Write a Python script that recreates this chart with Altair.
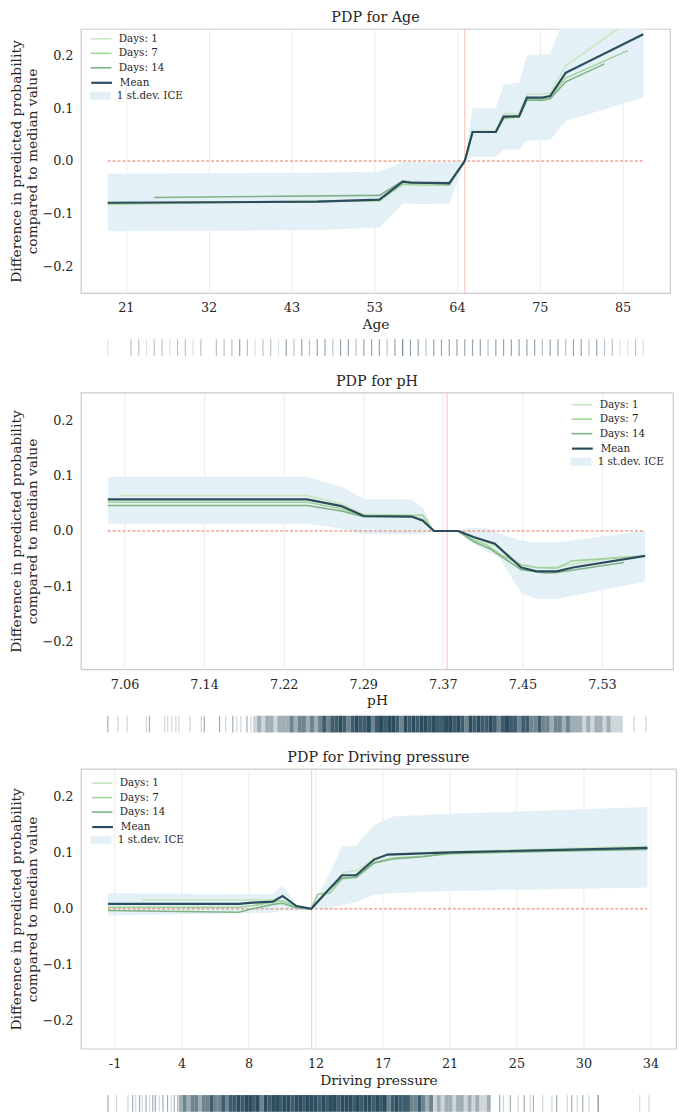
import altair as alt
import pandas as pd

FONT = "DejaVu Serif"
TEXT = "#262626"
GREEN_SERIES = ["Days: 1", "Days: 7", "Days: 14"]
GREEN_COLORS = ["#c8e6c0", "#a2d39a", "#7fb285"]
MEAN_SERIES = ["Mean"]
MEAN_COLOR = ["#2b4c5d"]
ICE_SERIES = ["1 st.dev. ICE"]
ICE_FILL = "#e3f0f5"
RUG_COLOR = "#2b4c5d"
ZERO_COLOR = "#e8705a"
MEDIAN_COLOR = "#f7bdb3"
Y_TITLE = ["Difference in predicted probability", "compared to median value"]
Y_TICKS = [-0.2, -0.1, 0.0, 0.1, 0.2]

# ---------------- Age ----------------
age_d1_x = [19, 54, 57, 58, 63, 65, 66, 69, 70, 72, 73, 75, 76, 78, 88]
age_d1_y = [-0.080, -0.075, -0.043, -0.044, -0.045, 0.0, 0.057, 0.057, 0.089, 0.090, 0.126, 0.127, 0.129, 0.180, 0.285]
age_d7_x = [19, 54, 57, 58, 63, 65, 66, 69, 70, 72, 73, 75, 76, 78, 86]
age_d7_y = [-0.082, -0.075, -0.044, -0.045, -0.046, 0.0, 0.055, 0.055, 0.080, 0.084, 0.117, 0.117, 0.120, 0.157, 0.209]
age_d14_x = [25, 54, 57, 58, 63, 65, 66, 69, 70, 72, 73, 75, 76, 78, 83]
age_d14_y = [-0.069, -0.065, -0.038, -0.040, -0.044, 0.0, 0.055, 0.055, 0.083, 0.083, 0.115, 0.115, 0.118, 0.150, 0.184]
age_mean_x = [19, 46, 54, 57, 58, 63, 65, 66, 69, 70, 72, 73, 75, 76, 78, 88]
age_mean_y = [-0.079, -0.077, -0.073, -0.039, -0.041, -0.042, 0.0, 0.055, 0.055, 0.084, 0.085, 0.120, 0.120, 0.123, 0.167, 0.240]
age_band_x = [19, 46, 54, 57, 63, 65, 66, 69, 70, 72, 73, 76, 78, 88]
age_band_hi = [-0.024, -0.022, -0.020, -0.002, -0.003, 0.0, 0.100, 0.100, 0.145, 0.148, 0.200, 0.203, 0.280, 0.360]
age_band_lo = [-0.133, -0.131, -0.126, -0.081, -0.082, 0.0, 0.008, 0.008, 0.022, 0.022, 0.039, 0.040, 0.076, 0.120]
age_median = 65
age_ticks = [21.333, 32.0, 42.667, 53.333, 64.0, 74.667, 85.333]
age_domain = [15.55, 91.45]
age_rug_x = [19, 22, 23, 24, 25, 26, 27, 28, 29, 30, 31,
             33, 34, 35, 36, 37, 38, 39, 40, 41, 42, 43,
             44, 45, 46, 47, 48, 49, 50, 51, 52, 53, 54, 55, 56, 57, 58, 59, 60, 61, 62,
             63, 64, 65, 66, 67, 68, 69, 70, 71, 72, 73, 74, 75, 76, 77, 78, 79, 80,
             81, 82, 83, 84, 85, 86, 87, 88]
age_rug_n = [1, 2, 2, 1, 2, 2, 1, 2, 2, 1, 2,
             2, 2, 2, 3, 2, 1, 2, 2, 1, 3, 2,
             3, 2, 3, 3, 2, 3, 3, 2, 3, 3, 3, 2, 3, 4, 3, 3, 2, 3, 3,
             3, 3, 3, 3, 3, 2, 3, 3, 3, 3, 3, 3, 2, 3, 3, 2, 3, 3,
             2, 3, 2, 2, 1, 1, 2, 1]

# ---------------- pH ----------------
ph_d1_x = [7.054, 7.239, 7.273, 7.295, 7.342, 7.353, 7.364, 7.388, 7.403, 7.424, 7.450, 7.465, 7.485, 7.501, 7.547]
ph_d1_y = [0.064, 0.064, 0.049, 0.030, 0.029, 0.021, 0.0, 0.0, -0.012, -0.026, -0.062, -0.066, -0.065, -0.060, -0.047]
ph_d7_x = [7.043, 7.239, 7.273, 7.295, 7.342, 7.353, 7.364, 7.388, 7.403, 7.416, 7.429, 7.450, 7.465, 7.485, 7.500, 7.572]
ph_d7_y = [0.052, 0.052, 0.040, 0.028, 0.028, 0.029, 0.0, 0.0, -0.016, -0.025, -0.042, -0.061, -0.066, -0.067, -0.054, -0.045]
ph_d14_x = [7.043, 7.239, 7.273, 7.295, 7.342, 7.353, 7.364, 7.388, 7.403, 7.419, 7.450, 7.474, 7.485, 7.551]
ph_d14_y = [0.046, 0.046, 0.036, 0.026, 0.026, 0.018, 0.0, 0.0, -0.019, -0.032, -0.070, -0.076, -0.075, -0.057]
ph_mean_x = [7.043, 7.239, 7.273, 7.295, 7.342, 7.353, 7.364, 7.388, 7.403, 7.424, 7.450, 7.465, 7.485, 7.501, 7.572]
ph_mean_y = [0.057, 0.057, 0.045, 0.027, 0.026, 0.019, 0.0, 0.0, -0.011, -0.023, -0.066, -0.073, -0.073, -0.066, -0.045]
ph_band_x = [7.043, 7.239, 7.273, 7.295, 7.342, 7.354, 7.364, 7.388, 7.400, 7.416, 7.429, 7.450, 7.465, 7.485, 7.572]
ph_band_hi = [0.098, 0.098, 0.080, 0.058, 0.057, 0.040, 0.0, 0.0, 0.006, 0.005, -0.005, -0.017, -0.021, -0.021, 0.0]
ph_band_lo = [0.013, 0.013, 0.004, -0.006, -0.006, -0.006, 0.0, 0.0, -0.020, -0.037, -0.049, -0.112, -0.123, -0.123, -0.091]
ph_median = 7.377
ph_ticks = [7.0595, 7.1378, 7.2162, 7.2945, 7.3728, 7.4512, 7.5295]
ph_domain = [7.0165, 7.5995]
ph_rug_x = [7.043, 7.053, 7.062, 7.081, 7.084, 7.099, 7.102, 7.106, 7.110, 7.113, 7.124,
            7.135, 7.138, 7.153, 7.159, 7.166, 7.170, 7.174, 7.180, 7.184, 7.561, 7.573]
ph_rug_n = [2, 1, 1, 1, 2, 1, 1, 1, 1, 1, 1,
            1, 2, 2, 1, 2, 1, 1, 2, 1, 1, 1]
ph_dense_x = [7.188, 7.192, 7.196, 7.200, 7.204, 7.208, 7.212, 7.216,
              7.220, 7.224, 7.228, 7.232, 7.236, 7.240, 7.244, 7.248, 7.252,
              7.256, 7.260, 7.264, 7.268, 7.272, 7.276, 7.280, 7.284, 7.288, 7.292, 7.296, 7.300, 7.304,
              7.308, 7.312, 7.316, 7.320, 7.324, 7.328, 7.332, 7.336, 7.340, 7.344, 7.348, 7.352, 7.356,
              7.360, 7.364, 7.368, 7.372, 7.376, 7.380, 7.384, 7.388, 7.392, 7.396, 7.400, 7.404, 7.408,
              7.412, 7.416, 7.420, 7.424, 7.428, 7.432, 7.436, 7.440, 7.444, 7.448, 7.452, 7.456, 7.460,
              7.464, 7.468, 7.472, 7.476, 7.480, 7.484, 7.488, 7.492, 7.496, 7.500, 7.504,
              7.508, 7.512, 7.516, 7.520, 7.524, 7.528, 7.532, 7.536, 7.540, 7.544, 7.548]
ph_dense_n = [1, 2, 1, 2, 2, 1, 2, 2,
              2, 3, 2, 3, 3, 2, 3, 2, 3,
              4, 3, 4, 4, 5, 4, 3, 4, 5, 4, 4, 5, 3,
              4, 5, 4, 5, 5, 4, 3, 5, 4, 5, 4, 5, 5,
              4, 5, 4, 4, 5, 5, 4, 5, 4, 3, 5, 4, 5,
              4, 4, 5, 4, 3, 4, 5, 4, 4, 3, 4, 4, 3,
              3, 4, 3, 3, 2, 3, 3, 2, 3, 2, 2,
              2, 1, 2, 1, 2, 2, 1, 2, 1, 1, 1]

# ---------------- Driving pressure ----------------
dp_d1_x = [1.12, 9.50, 10.38, 11.10, 12.07, 12.49, 13.30, 14.20, 15.00, 16.15, 17.00, 19.30, 21.10, 33.90]
dp_d1_y = [0.016, 0.016, 0.013, 0.006, 0.0, 0.026, 0.028, 0.065, 0.068, 0.090, 0.098, 0.100, 0.102, 0.112]
dp_d7_x = [-1.13, 7.37, 8.30, 9.57, 10.20, 11.10, 12.07, 12.50, 13.30, 14.07, 15.00, 16.15, 17.37, 19.30, 21.10, 33.90]
dp_d7_y = [0.003, 0.003, 0.006, 0.012, 0.014, 0.004, 0.0, 0.026, 0.029, 0.053, 0.058, 0.083, 0.091, 0.094, 0.098, 0.108]
dp_d14_x = [-1.13, 7.37, 8.26, 9.57, 10.20, 11.10, 12.07, 13.12, 14.07, 14.98, 16.17, 17.37, 19.30, 21.10, 33.90]
dp_d14_y = [-0.003, -0.006, 0.0, 0.008, 0.010, 0.002, 0.0, 0.032, 0.055, 0.056, 0.082, 0.089, 0.093, 0.100, 0.106]
dp_mean_x = [-1.13, 7.37, 8.26, 9.57, 10.20, 11.11, 12.07, 13.12, 14.07, 14.98, 16.15, 17.04, 21.11, 33.90]
dp_mean_y = [0.009, 0.009, 0.011, 0.013, 0.023, 0.005, 0.0, 0.032, 0.060, 0.060, 0.088, 0.097, 0.101, 0.109]
dp_band_x = [-1.13, 9.57, 10.20, 11.11, 12.07, 13.12, 14.07, 14.98, 16.15, 17.37, 21.11, 33.90]
dp_band_hi = [0.028, 0.026, 0.042, 0.007, 0.0, 0.055, 0.112, 0.113, 0.150, 0.165, 0.170, 0.182]
dp_band_lo = [-0.012, -0.007, -0.003, -0.003, 0.0, 0.0, 0.007, 0.012, 0.025, 0.028, 0.032, 0.038]
dp_median = 12.1
dp_ticks = [-0.7, 3.65, 8.0, 12.35, 16.7, 21.05, 25.4, 29.75, 34.1]
dp_domain = [-2.887, 35.757]
dp_rug_x = [-1.13, -0.57, 0.17, 0.47, 0.67, 0.92, 1.09, 1.34, 1.58, 1.78, 1.95, 2.20, 2.44, 2.74, 2.98, 3.18, 3.40,
            24.30, 24.55, 25.00, 25.50, 25.90, 26.30, 26.50, 27.10, 27.70, 28.00, 28.70, 28.98, 29.34, 29.70,
            30.10, 30.70, 33.40, 34.00]
dp_rug_n = [2, 1, 1, 2, 1, 2, 1, 2, 1, 2, 2, 1, 2, 2, 1, 2, 2,
            2, 1, 2, 1, 2, 1, 2, 1, 1, 2, 1, 2, 1, 2,
            1, 3, 1, 1]
dp_dense_x = [3.60, 3.85, 4.10, 4.35, 4.60, 4.85, 5.10, 5.35, 5.60, 5.85, 6.10, 6.35, 6.60, 6.85,
              7.10, 7.35, 7.60, 7.85, 8.10, 8.35, 8.60, 8.85, 9.10, 9.35, 9.60, 9.85, 10.10, 10.35, 10.60,
              10.85, 11.10, 11.35, 11.60, 11.85, 12.10, 12.35, 12.60, 12.85, 13.10, 13.35, 13.60, 13.85, 14.10, 14.35,
              14.60, 14.85, 15.10, 15.35, 15.60, 15.85, 16.10, 16.35, 16.60, 16.85, 17.10, 17.35, 17.60, 17.85, 18.10,
              18.35, 18.60, 18.85, 19.10, 19.35, 19.60, 19.85,
              20.10, 20.35, 20.60, 20.85,
              21.10, 21.35, 21.60, 21.85, 22.10, 22.35, 22.60, 22.85, 23.10, 23.35, 23.60]
dp_dense_n = [2, 3, 2, 3, 3, 2, 3, 3, 4, 3, 3, 4, 3, 4,
              4, 5, 4, 5, 5, 4, 5, 3, 5, 4, 5, 5, 4, 5, 5,
              4, 5, 5, 4, 5, 5, 5, 4, 5, 4, 5, 5, 4, 5, 5,
              5, 4, 5, 4, 5, 5, 4, 5, 4, 5, 3, 4, 5, 4, 4,
              4, 3, 3, 4, 3, 2, 3,
              1, 2, 1, 2,
              2, 1, 2, 2, 1, 2, 1, 2, 1, 1, 2]

ROW = 14.7
LINE_SYMBOL = "M-1.5,0H1.5"
BOX_SYMBOL = "M-1.5,-0.6H1.5V0.6H-1.5Z"


def long_lines(names, xs_list, ys_list):
    rows = []
    for name, xs, ys in zip(names, xs_list, ys_list):
        for x, y in zip(xs, ys):
            rows.append({"series": name, "x": x, "y": y})
    return pd.DataFrame(rows)


def make_legend(lx, ly, stroke_width):
    return alt.Legend(title=None, orient="none", legendX=lx, legendY=ly, symbolSize=196,
                      symbolType=LINE_SYMBOL if stroke_width > 0 else BOX_SYMBOL,
                      symbolStrokeWidth=stroke_width, symbolOpacity=1,
                      labelOffset=10, rowPadding=0.7, padding=0)


def panel(title, xtitle, greens, mean, band, median, domain, ticks, label_expr,
          width, height, lx, ly, rug, dense, dense_thick, op_max):
    xscale = alt.Scale(domain=domain, nice=False, zero=False)
    yscale = alt.Scale(domain=[-0.25, 0.25], nice=False)
    xaxis = alt.Axis(values=ticks, labelExpr=label_expr, title=xtitle, grid=True, ticks=False,
                     domain=False, labelPadding=9, titlePadding=3, gridColor="#ebebeb", gridWidth=1)
    yaxis = alt.Axis(values=Y_TICKS, format=".1f", title=Y_TITLE, grid=False, ticks=False,
                     domain=False, labelPadding=8, titlePadding=2, titleLineHeight=17)

    band_df = pd.DataFrame({"x": band[0], "lo": band[1], "hi": band[2], "series": ICE_SERIES[0]})
    green_df = long_lines(GREEN_SERIES, greens[0], greens[1])
    mean_df = long_lines(MEAN_SERIES, [mean[0]], [mean[1]])
    all_x = [v for xs in greens[0] for v in xs] + list(mean[0])
    zero_df = pd.DataFrame({"x": [min(all_x)], "x2": [max(all_x)], "y": [0.0]})
    med_df = pd.DataFrame({"x": [median]})

    band_l = alt.Chart(band_df).mark_area(opacity=1, clip=True).encode(
        x=alt.X("x:Q", scale=xscale, axis=xaxis),
        y=alt.Y("lo:Q", scale=yscale, axis=yaxis),
        y2="hi:Q",
        fill=alt.Fill("series:N", scale=alt.Scale(domain=ICE_SERIES, range=[ICE_FILL]),
                      legend=make_legend(lx, ly + 4 * ROW, 0)))
    med_l = alt.Chart(med_df).mark_rule(color=MEDIAN_COLOR, strokeWidth=1).encode(x="x:Q")
    zero_l = alt.Chart(zero_df).mark_rule(color=ZERO_COLOR, strokeWidth=1, strokeDash=[3, 2]).encode(
        x="x:Q", x2="x2:Q", y="y:Q")
    green_l = alt.Chart(green_df).mark_line(strokeWidth=1.6, clip=True).encode(
        x="x:Q", y="y:Q",
        color=alt.Color("series:N", scale=alt.Scale(domain=GREEN_SERIES, range=GREEN_COLORS),
                        legend=make_legend(lx, ly, 1.6)))
    mean_l = alt.Chart(mean_df).mark_line(strokeWidth=2.2, clip=True).encode(
        x="x:Q", y="y:Q",
        stroke=alt.Stroke("series:N", scale=alt.Scale(domain=MEAN_SERIES, range=MEAN_COLOR),
                          legend=make_legend(lx, ly + 3 * ROW, 2.2)))
    main = alt.layer(band_l, med_l, zero_l, green_l, mean_l).properties(
        width=width, height=height,
        title=alt.TitleParams(text=title, frame="group"))

    op = alt.Opacity("n:Q", scale=alt.Scale(domain=[0, op_max], range=[0, 1], clamp=True), legend=None)
    rug_df = pd.DataFrame({"x": rug[0], "n": rug[1]})
    rug_l = alt.Chart(rug_df).mark_tick(color=RUG_COLOR, thickness=1.2, size=17).encode(
        x=alt.X("x:Q", scale=xscale, axis=None), opacity=op)
    layers = [rug_l]
    if dense is not None:
        dense_df = pd.DataFrame({"x": dense[0], "n": dense[1]})
        layers.append(alt.Chart(dense_df).mark_tick(color=RUG_COLOR, thickness=dense_thick, size=17).encode(
            x=alt.X("x:Q", scale=xscale, axis=None), opacity=op))
    rug_chart = alt.layer(*layers).properties(width=width, height=17,
                                              view=alt.ViewBackground(strokeWidth=0))
    return alt.vconcat(main, rug_chart, spacing=7).resolve_scale(
        color="independent", stroke="independent", fill="independent", opacity="independent"
    ).resolve_legend(color="independent", stroke="independent", fill="independent")


p1 = panel("PDP for Age", "Age",
           ([age_d1_x, age_d7_x, age_d14_x], [age_d1_y, age_d7_y, age_d14_y]),
           (age_mean_x, age_mean_y), (age_band_x, age_band_lo, age_band_hi), age_median,
           age_domain, age_ticks, "format(datum.value, '.0f')", 598, 268, 12.5, 2,
           (age_rug_x, age_rug_n), None, 1.2, 6)
p2 = panel("PDP for pH", "pH",
           ([ph_d1_x, ph_d7_x, ph_d14_x], [ph_d1_y, ph_d7_y, ph_d14_y]),
           (ph_mean_x, ph_mean_y), (ph_band_x, ph_band_lo, ph_band_hi), ph_median,
           ph_domain, ph_ticks, "format(datum.value, '.2f')", 601, 281, 500.5, 4.3,
           (ph_rug_x, ph_rug_n), (ph_dense_x, ph_dense_n), 4.1, 4.4)
p3 = panel("PDP for Driving pressure", "Driving pressure",
           ([dp_d1_x, dp_d7_x, dp_d14_x], [dp_d1_y, dp_d7_y, dp_d14_y]),
           (dp_mean_x, dp_mean_y), (dp_band_x, dp_band_lo, dp_band_hi), dp_median,
           dp_domain, dp_ticks,
           "datum.value < 0 ? '-' + format(-datum.value, '.0f') : format(datum.value, '.0f')",
           604, 284, 13.5, 6.4,
           (dp_rug_x, dp_rug_n), (dp_dense_x, dp_dense_n), 3.9, 4.4)

chart = alt.vconcat(p1, p2, p3, spacing=17).resolve_scale(
    color="independent", stroke="independent", fill="independent", opacity="independent"
).resolve_legend(color="independent", stroke="independent", fill="independent").properties(
    padding={"top": -7, "left": 0, "right": 0, "bottom": 0}
).configure(font=FONT).configure_view(
    stroke="#cccccc", strokeWidth=1.25
).configure_axis(
    labelFont=FONT, labelFontSize=13, labelColor=TEXT,
    titleFont=FONT, titleFontSize=14, titleColor=TEXT, titleFontWeight="normal"
).configure_title(
    font=FONT, fontSize=14.5, fontWeight="normal", color=TEXT, offset=3
).configure_legend(
    labelFont=FONT, labelFontSize=10.5, labelColor=TEXT
)

chart.save("out.html", embed_options={"renderer": "svg", "actions": False})
